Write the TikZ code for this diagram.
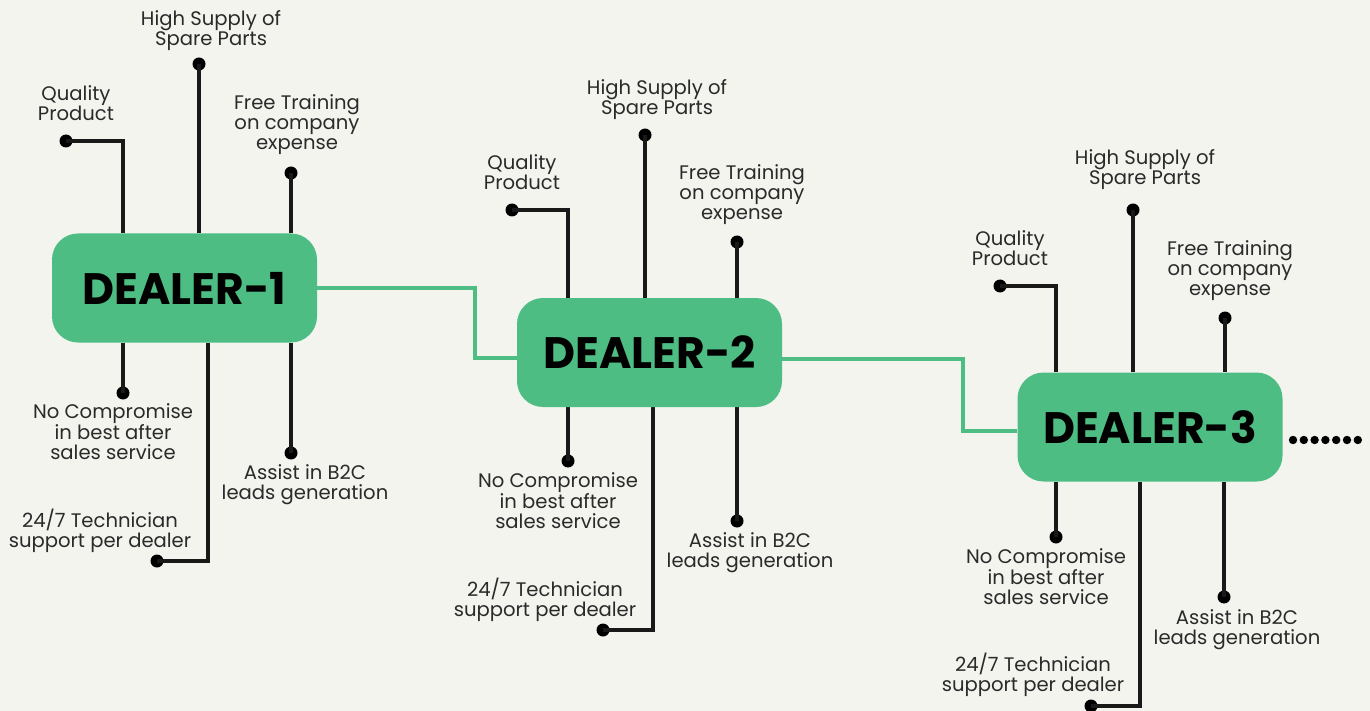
\documentclass[tikz,border=0pt]{standalone}
\usepackage{fontspec}
\setmainfont{Poppins}
\definecolor{bg}{HTML}{F4F4EF}
\definecolor{dgreen}{HTML}{4DBD84}
\definecolor{txt}{HTML}{2A2A2A}
\begin{document}
\begin{tikzpicture}[x=1pt,y=-1pt,
  dealer/.style={fill=dgreen, rounded corners=26pt, minimum width=265pt, minimum height=109pt, inner sep=0pt,
     font=\fontsize{44}{44}\selectfont\bfseries, text=black},
  lbl/.style={align=center, text=txt, font=\fontsize{19.6}{20}\selectfont, inner sep=0pt},
  pin/.style={circle, fill=black, minimum size=13pt, inner sep=0pt},
  wire/.style={draw=black!90, line width=3.2pt},
  gline/.style={draw=dgreen, line width=3.2pt}]
\fill[bg] (0,0) rectangle (1370,711);
\useasboundingbox (0,0) rectangle (1370,711);

\coordinate (k1a) at (475,288);
\coordinate (k1b) at (475,358);
\coordinate (k2a) at (963,359);
\coordinate (k2b) at (963,431);

% ---------- DEALER 1 ----------
\coordinate (q1c) at (123,141);
\coordinate (t1c) at (208,561);
\node[pin] (q1) at (66,141) {};
\node[pin] (h1) at (199,64) {};
\node[pin] (f1) at (291,173) {};
\node[pin] (n1) at (123,393) {};
\node[pin] (t1) at (157,561) {};
\node[pin] (a1) at (291,453) {};
\path (184.5,288) node[dealer, fill=none] (d1) {};
\draw[wire] (q1.center) -- (q1c) -- (q1c |- d1.north);
\draw[wire] (h1.center) -- (h1 |- d1.north);
\draw[wire] (f1.center) -- (f1 |- d1.north);
\draw[wire] (n1.center) -- (n1 |- d1.south);
\draw[wire] (t1.center) -- (t1c) -- (t1c |- d1.south);
\draw[wire] (a1.center) -- (a1 |- d1.south);
\node[lbl] (lq1) at (76,103) {Quality\\Product};
\node[lbl] (lh1) at (211,31) {High Supply of\\Spare Parts};
\node[lbl] (lf1) at (297,125) {Free Training\\on company\\expense};
\node[lbl] (ln1) at (113,432) {No Compromise\\in best after\\sales service};
\node[lbl] (lt1) at (100,531) {24/7 Technician\\support per dealer};
\node[lbl] (la1) at (305,485) {Assist in B2C\\leads generation};

% ---------- DEALER 2 ----------
\coordinate (q2c) at (568,210);
\coordinate (t2c) at (653,630);
\node[pin] (q2) at (512,210) {};
\node[pin] (h2) at (645,135) {};
\node[pin] (f2) at (737,242) {};
\node[pin] (n2) at (568,461) {};
\node[pin] (t2) at (603,630) {};
\node[pin] (a2) at (737,521) {};
\path (649.5,352.5) node[dealer, fill=none] (d2) {};
\draw[wire] (q2.center) -- (q2c) -- (q2c |- d2.north);
\draw[wire] (h2.center) -- (h2 |- d2.north);
\draw[wire] (f2.center) -- (f2 |- d2.north);
\draw[wire] (n2.center) -- (n2 |- d2.south);
\draw[wire] (t2.center) -- (t2c) -- (t2c |- d2.south);
\draw[wire] (a2.center) -- (a2 |- d2.south);
\node[lbl] (lq2) at (522,172) {Quality\\Product};
\node[lbl] (lh2) at (657,100) {High Supply of\\Spare Parts};
\node[lbl] (lf2) at (742,195) {Free Training\\on company\\expense};
\node[lbl] (ln2) at (558,501) {No Compromise\\in best after\\sales service};
\node[lbl] (lt2) at (545,600) {24/7 Technician\\support per dealer};
\node[lbl] (la2) at (750,553) {Assist in B2C\\leads generation};

% ---------- DEALER 3 ----------
\coordinate (q3c) at (1056,286);
\coordinate (t3c) at (1140,706);
\node[pin] (q3) at (1000,286) {};
\node[pin] (h3) at (1133,210) {};
\node[pin] (f3) at (1225,318) {};
\node[pin] (n3) at (1056,537) {};
\node[pin] (t3) at (1091,706) {};
\node[pin] (a3) at (1224,597) {};
\path (1150,427) node[dealer, fill=none] (d3) {};
\draw[wire] (q3.center) -- (q3c) -- (q3c |- d3.north);
\draw[wire] (h3.center) -- (h3 |- d3.north);
\draw[wire] (f3.center) -- (f3 |- d3.north);
\draw[wire] (n3.center) -- (n3 |- d3.south);
\draw[wire] (t3.center) -- (t3c) -- (t3c |- d3.south);
\draw[wire] (a3.center) -- (a3 |- d3.south);
\node[lbl] (lq3) at (1010,248) {Quality\\Product};
\node[lbl] (lh3) at (1145,170) {High Supply of\\Spare Parts};
\node[lbl] (lf3) at (1230,271) {Free Training\\on company\\expense};
\node[lbl] (ln3) at (1046,577) {No Compromise\\in best after\\sales service};
\node[lbl] (lt3) at (1033,675) {24/7 Technician\\support per dealer};
\node[lbl] (la3) at (1237,630) {Assist in B2C\\leads generation};

% green links
\draw[gline] (d1.east) -- (k1a) -- (k1b) -- (k1b -| d2.west);
\draw[gline] (k2a -| d2.east) -- (k2a) -- (k2b) -- (k2b -| d3.west);

% dealer boxes on top
\node[dealer] (D1) at (d1) {DEALER-1};
\node[dealer] (D2) at (d2) {DEALER-2};
\node[dealer] (D3) at (d3) {DEALER-3};

% trailing dots
\foreach \i in {0,...,6} {
  \fill[black] ({1293+\i*10.8},440) circle (4.2pt);
}
\end{tikzpicture}
\end{document}
